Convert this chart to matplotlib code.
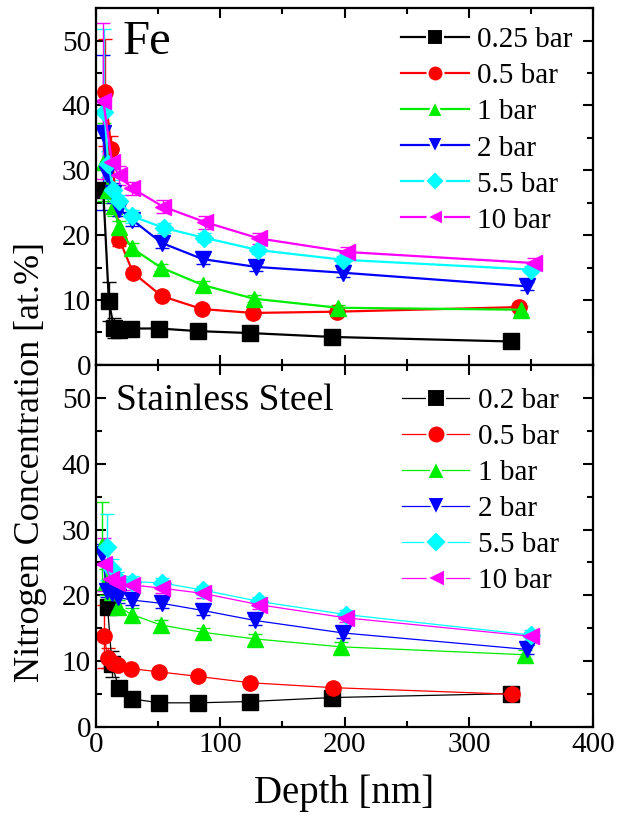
import matplotlib
matplotlib.use("Agg")
import matplotlib.pyplot as plt
from matplotlib.lines import Line2D
from matplotlib.ticker import MultipleLocator

plt.rcParams['font.family'] = ['Liberation Serif', 'DejaVu Serif']

colors = ['black', 'red', '#00ee00', 'blue', 'cyan', 'magenta']
markers = ['s', 'o', '^', 'v', 'D', '<']

# Fe panel
fe_labels = ['0.25 bar', '0.5 bar', '1 bar', '2 bar', '5.5 bar', '10 bar']
fe_d_025 = [6, 10.5, 14.5, 18.5, 28, 51, 82, 124, 190, 334]
fe_c_025 = [27, 9.8, 5.7, 5.4, 5.6, 5.6, 5.2, 4.9, 4.3, 3.6]
fe_e_025 = [1.0, 3.0, 1.5, 0.5, 0.3, 0.3, 0.3, 0.3, 0.3, 0.3]
fe_d_05 = [7.5, 12.5, 19, 30, 53, 85.5, 126.5, 194, 340]
fe_c_05 = [42, 33.3, 19.3, 14.2, 10.6, 8.6, 8.0, 8.2, 8.9]
fe_e_05 = [8.2, 2, 1, 0.6, 0.4, 0.4, 0.3, 0.3, 0.4]
fe_d_1 = [6.5, 10, 14.5, 18.5, 29, 52.5, 86, 127, 195, 342]
fe_c_1 = [31.3, 27, 24.5, 21.2, 18.0, 15.0, 12.3, 10.2, 8.8, 8.5]
fe_e_1 = [6, 2, 1.5, 1, 0.8, 0.6, 0.6, 0.5, 0.5, 0.6]
fe_d_2 = [6, 9, 14, 19, 29, 53, 86, 129, 199, 347]
fe_c_2 = [35.8, 29.5, 26.5, 24, 22.4, 18.8, 16.3, 15.1, 14.2, 12.1]
fe_e_2 = [12, 2, 1.5, 1, 1, 0.8, 0.8, 0.6, 0.6, 0.6]
fe_d_55 = [7, 10, 14, 19, 29.5, 55, 87, 130.5, 199, 350]
fe_c_55 = [39, 31, 27, 25.2, 22.9, 21.1, 19.6, 17.7, 16.2, 14.7]
fe_e_55 = [12.8, 2, 1.5, 1, 1, 0.7, 0.7, 0.6, 0.6, 0.6]
fe_d_10 = [6, 13, 18.5, 29.5, 54, 88, 131, 202, 352]
fe_c_10 = [40.7, 31.3, 29.2, 27.2, 24.4, 22.0, 19.5, 17.4, 15.7]
fe_e_10 = [12, 2, 1.5, 1, 1, 1, 0.8, 0.8, 0.8]

# Stainless steel panel
ss_labels = ['0.2 bar', '0.5 bar', '1 bar', '2 bar', '5.5 bar', '10 bar']
ss_d_02 = [9.5, 13, 18.5, 29, 51, 82, 124, 190, 334]
ss_c_02 = [18.2, 9.6, 5.9, 4.3, 3.7, 3.7, 3.9, 4.5, 5.1]
ss_e_02 = [0.8, 2.0, 1.0, 0.3, 0.3, 0.3, 0.3, 0.3, 0.3]
ss_d_05 = [6.5, 10, 14, 18, 28, 51, 82.5, 124, 191, 335]
ss_c_05 = [13.8, 10.5, 9.7, 9.4, 8.9, 8.4, 7.7, 6.75, 6.0, 5.0]
ss_e_05 = [4.8, 1.5, 0.8, 0.5, 0.4, 0.4, 0.3, 0.3, 0.3, 0.3]
ss_d_1 = [5, 8, 13, 18, 29, 52.5, 86, 128, 197, 345]
ss_c_1 = [27.5, 22, 20.5, 18.3, 17.1, 15.5, 14.4, 13.4, 12.2, 11.0]
ss_e_1 = [6.7, 2, 1.5, 1, 1, 0.8, 0.7, 0.7, 0.7, 0.7]
ss_d_2 = [5, 9, 13, 18, 29, 53, 86.5, 128, 199, 347]
ss_c_2 = [26.3, 20.7, 20.3, 19.7, 19.3, 18.8, 17.7, 16.2, 14.3, 11.8]
ss_e_2 = [1.5, 1, 1, 0.8, 0.7, 0.7, 0.7, 0.7, 0.7, 0.7]
ss_d_55 = [9, 13, 17, 29, 53, 86.5, 131, 201, 350]
ss_c_55 = [27.3, 24, 22.6, 22.1, 21.9, 20.8, 19.1, 17.1, 14.0]
ss_e_55 = [5, 1.5, 1, 0.8, 0.7, 0.7, 0.7, 0.7, 0.7]
ss_d_10 = [7, 12, 17, 29, 53, 86.5, 131, 201, 350]
ss_c_10 = [24.7, 22.5, 21.9, 21.6, 21.1, 20.3, 18.6, 16.6, 13.8]
ss_e_10 = [4, 1.5, 1, 0.8, 0.7, 0.7, 0.7, 0.7, 0.7]

fe_series = [(fe_d_025, fe_c_025, fe_e_025), (fe_d_05, fe_c_05, fe_e_05),
             (fe_d_1, fe_c_1, fe_e_1), (fe_d_2, fe_c_2, fe_e_2),
             (fe_d_55, fe_c_55, fe_e_55), (fe_d_10, fe_c_10, fe_e_10)]
ss_series = [(ss_d_02, ss_c_02, ss_e_02), (ss_d_05, ss_c_05, ss_e_05),
             (ss_d_1, ss_c_1, ss_e_1), (ss_d_2, ss_c_2, ss_e_2),
             (ss_d_55, ss_c_55, ss_e_55), (ss_d_10, ss_c_10, ss_e_10)]

fig = plt.figure(figsize=(6.18, 8.18), dpi=100)
ax1 = fig.add_axes([0.155, 0.554, 0.805, 0.436])
ax2 = fig.add_axes([0.155, 0.111, 0.805, 0.443])


def draw(ax, series, labels, lw, leg_ms, anchor):
    for (d, c, e), col, m in zip(series, colors, markers):
        ms = 9.5 if m == 'D' else 11
        ax.errorbar(d, c, yerr=e, color=col, marker=m, ms=ms, lw=lw,
                    mec=col, mfc=col, elinewidth=1, capsize=5, capthick=1)
    ax.set_xlim(0, 400)
    ax.set_ylim(0, 55)
    ax.xaxis.set_major_locator(MultipleLocator(100))
    ax.xaxis.set_minor_locator(MultipleLocator(50))
    ax.yaxis.set_major_locator(MultipleLocator(10))
    ax.yaxis.set_minor_locator(MultipleLocator(5))
    ax.tick_params(which='both', direction='in', top=True, right=True,
                   width=1.5, labelsize=21)
    ax.tick_params(which='major', length=7)
    ax.tick_params(which='minor', length=4)
    for s in ax.spines.values():
        s.set_linewidth(1.6)
    # legend proxies: white marker edge leaves a small gap in the line
    handles = [Line2D([], [], color=col, marker=m, lw=lw, mfc=col, mec='white',
                      mew=1.5, ms=(leg_ms - 1.5 if m == 'D' else leg_ms))
               for col, m in zip(colors, markers)]
    ax.legend(handles, labels, loc='upper right', frameon=False,
              fontsize=21, handlelength=2.3, labelspacing=0.33,
              handletextpad=0.3, borderaxespad=0.1, borderpad=0.3,
              bbox_to_anchor=anchor)


draw(ax1, fe_series, fe_labels, 1.6, 11.5, (0.982, 0.98))
draw(ax2, ss_series, ss_labels, 0.9, 13, (0.955, 0.97))
ax1.tick_params(labelbottom=False)

ax1.text(0.054, 0.905, 'Fe', transform=ax1.transAxes, fontsize=35,
         va='center', ha='left')
ax2.text(0.04, 0.9, 'Stainless Steel', transform=ax2.transAxes,
         fontsize=27, va='center', ha='left')

ax2.set_xlabel('Depth [nm]', fontsize=28, labelpad=12)
fig.text(0.05, 0.435, 'Nitrogen Concentration [at.%]', rotation=90,
         fontsize=26, ha='center', va='center')

fig.savefig('out.png', dpi=100)
